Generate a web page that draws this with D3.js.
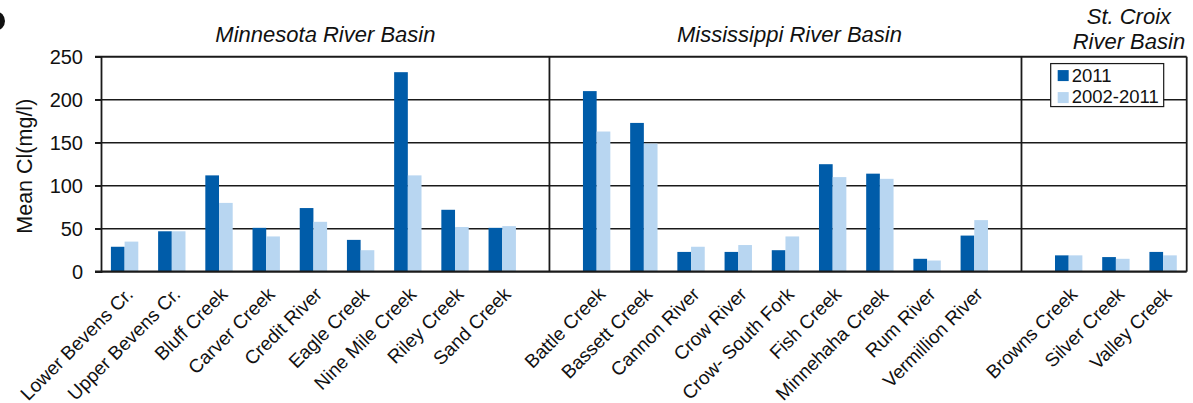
<!DOCTYPE html>
<html>
<head>
<meta charset="utf-8">
<script src="https://cdn.jsdelivr.net/npm/d3@7"></script>
<style>
  body { margin: 0; background: #fff; }
  text { font-family: "Liberation Sans", Arial, sans-serif; fill: #111; }
</style>
</head>
<body>
<svg id="chart" width="1193" height="403"></svg>
<script>
// basins and their sites
const basins = ["Minnesota River Basin", "Mississippi River Basin", "St. Croix River Basin"];
const minnesotaSites = ["Lower Bevens Cr.", "Upper Bevens Cr.", "Bluff Creek", "Carver Creek", "Credit River",
  "Eagle Creek", "Nine Mile Creek", "Riley Creek", "Sand Creek"];
const mississippiSites = ["Battle Creek", "Bassett Creek", "Cannon River", "Crow River", "Crow- South Fork",
  "Fish Creek", "Minnehaha Creek", "Rum River", "Vermillion River"];
const stCroixSites = ["Browns Creek", "Silver Creek", "Valley Creek"];

// mean chloride (mg/l)
const minnesota2011 = [29, 47, 112, 51, 74, 37, 232, 72, 51];
const minnesotaAvg = [35, 47, 80, 41, 58, 25, 112, 52, 53];
const mississippi2011 = [210, 173, 23, 23, 25, 125, 114, 15, 42];
const mississippiAvg = [163, 149, 29, 31, 41, 110, 108, 13, 60];
const stCroix2011 = [19, 17, 23];
const stCroixAvg = [19, 15, 19];

const seriesNames = ["2011", "2002-2011"];
const seriesColors = ["#005ca9", "#b8d6f1"];
const yTicks = [0, 50, 100, 150, 200, 250];

// build slot list (one empty slot between basins)
const groups = [
  { name: basins[0], sites: minnesotaSites, a: minnesota2011, b: minnesotaAvg },
  { name: basins[1], sites: mississippiSites, a: mississippi2011, b: mississippiAvg },
  { name: basins[2], sites: stCroixSites, a: stCroix2011, b: stCroixAvg }
];
const slots = [];
const rows = [];
groups.forEach((g, gi) => {
  if (gi > 0) slots.push("gap" + gi);
  g.sites.forEach((s, i) => {
    slots.push(s);
    rows.push({ site: s, values: [g.a[i], g.b[i]] });
  });
});

const margin = { top: 56.7, right: 6.3, bottom: 131.3, left: 101 };
const W = 1193, H = 403;
const width = W - margin.left - margin.right;
const height = H - margin.top - margin.bottom;

const svg = d3.select("#chart");
const g = svg.append("g").attr("transform", `translate(${margin.left},${margin.top})`);

const x0 = d3.scaleBand().domain(slots).range([0, width]).paddingInner(0.42).paddingOuter(0.21);
const x1 = d3.scaleBand().domain(seriesNames).range([0, x0.bandwidth()]);
const y = d3.scaleLinear().domain([0, 250]).range([height, 0]);
const slotCenter = s => x0(s) + x0.bandwidth() / 2;

// gridlines
g.append("g").selectAll("line").data(yTicks.filter(d => d > 0)).join("line")
  .attr("x1", -6).attr("x2", width)
  .attr("y1", d => y(d)).attr("y2", d => y(d))
  .attr("stroke", "#1a1a1a").attr("stroke-width", d => d === 250 ? 2 : 1.5);

// basin separators and right border
const sepX = ["gap1", "gap2"].map(slotCenter).concat([width]);
g.append("g").selectAll("line").data(sepX).join("line")
  .attr("x1", d => d).attr("x2", d => d)
  .attr("y1", 0).attr("y2", height)
  .attr("stroke", "#1a1a1a").attr("stroke-width", 1.8);

// bars
const site = g.append("g").selectAll("g").data(rows).join("g")
  .attr("transform", d => `translate(${x0(d.site)},0)`);
site.selectAll("rect").data(d => d.values.map((v, i) => ({ key: seriesNames[i], v, i }))).join("rect")
  .attr("x", d => x1(d.key))
  .attr("y", d => y(d.v))
  .attr("width", x1.bandwidth())
  .attr("height", d => y(0) - y(d.v))
  .attr("fill", d => seriesColors[d.i]);

// y axis
const yAxis = g.append("g")
  .call(d3.axisLeft(y).tickValues(yTicks).tickSize(6).tickPadding(12));
yAxis.select(".domain").attr("stroke", "#1a1a1a").attr("stroke-width", 1.8);
yAxis.selectAll(".tick line").attr("stroke", "#1a1a1a").attr("stroke-width", 1.5);
yAxis.selectAll(".tick text").style("font-size", "20px").attr("fill", "#111");

// x axis line
g.append("line").attr("x1", -6).attr("x2", width).attr("y1", height).attr("y2", height)
  .attr("stroke", "#1a1a1a").attr("stroke-width", 2.2);

// category labels
g.append("g").selectAll("text").data(rows).join("text")
  .attr("transform", d => `translate(${slotCenter(d.site) + 5},${height + 19}) rotate(-45)`)
  .attr("text-anchor", "end")
  .attr("dy", "0.35em")
  .style("font-size", "19px")
  .text(d => d.site);

// y label
svg.append("text")
  .attr("transform", `translate(32,${margin.top + height / 2 + 2}) rotate(-90)`)
  .attr("text-anchor", "middle")
  .style("font-size", "21.5px")
  .text("Mean Cl(mg/l)");

// basin titles
const titleNudge = [12, 4, 13];
groups.forEach((gr, gi) => {
  const cx = (slotCenter(gr.sites[0]) + slotCenter(gr.sites[gr.sites.length - 1])) / 2 + titleNudge[gi];
  const t = g.append("text").attr("text-anchor", "middle")
    .style("font-size", "22px").style("font-style", "italic");
  if (gi === 2) {
    t.append("tspan").attr("x", cx).attr("y", -32.5).text("St. Croix");
    t.append("tspan").attr("x", cx).attr("y", -7.5).text("River Basin");
  } else {
    t.attr("x", cx).attr("y", -14.5).text(gr.name);
  }
});

// legend
const lg = g.append("g").attr("transform", `translate(${slotCenter("Browns Creek") - 18},${y(242)})`);
lg.append("rect").attr("width", 113).attr("height", 43)
  .attr("fill", "#fff").attr("stroke", "#1a1a1a").attr("stroke-width", 1.2);
seriesNames.forEach((s, i) => {
  lg.append("rect").attr("x", 7).attr("y", 6.5 + i * 22).attr("width", 11).attr("height", 11)
    .attr("fill", seriesColors[i]);
  lg.append("text").attr("x", 21).attr("y", 18.5 + i * 20.5)
    .style("font-size", "18.5px").text(s);
});

// cut-off panel letter in the corner
svg.append("ellipse").attr("cx", -4).attr("cy", 21).attr("rx", 9).attr("ry", 9.5).attr("fill", "#111");
</script>
</body>
</html>
